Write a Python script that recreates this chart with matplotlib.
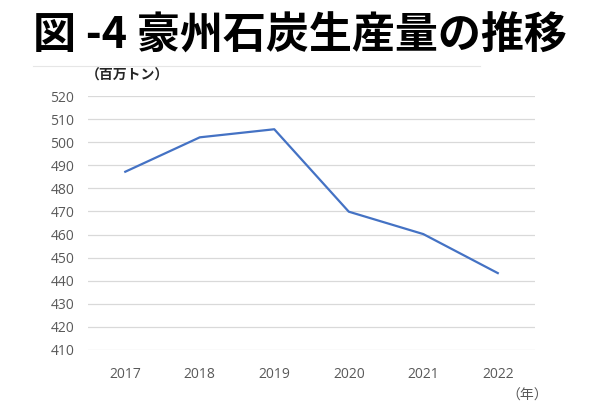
import matplotlib
matplotlib.use("Agg")
import matplotlib.pyplot as plt
from matplotlib.lines import Line2D

plt.rcParams['font.family'] = ['Noto Sans CJK JP', 'DejaVu Sans']

years = ['2017', '2018', '2019', '2020', '2021', '2022']
production = [487.2, 502.1, 505.6, 469.9, 460.2, 443.3]
yticks = list(range(410, 521, 10))

fig = plt.figure(figsize=(6.0, 4.08), dpi=100)
ax = fig.add_axes([0.1467, 0.1422, 0.745, 0.6225])

ax.plot(range(len(years)), production, color='#4472C4', linewidth=1.6)

ax.set_xlim(-0.5, len(years) - 0.5)
ax.set_ylim(410, 520)
ax.set_yticks(yticks)
ax.set_xticks(range(len(years)))
ax.set_xticklabels(years)
ax.grid(True, axis='y', color='#D9D9D9', linewidth=0.9)
ax.set_axisbelow(True)
for s in ax.spines.values():
    s.set_visible(False)
ax.tick_params(axis='both', length=0, labelsize=10, labelcolor='#595959')
ax.tick_params(axis='y', pad=10)
ax.tick_params(axis='x', pad=12)
for lab in ax.get_xticklabels() + ax.get_yticklabels():
    lab.set_family(['Open Sans', 'DejaVu Sans'])

# chart area top border
fig.add_artist(Line2D([33 / 600, 480 / 600], [1 - 66 / 408, 1 - 66 / 408],
                      color='#E6E6E6', linewidth=0.8))

fig.text(0.5, 1 - 35 / 408, '図 -4 豪州石炭生産量の推移', ha='center', va='center',
         fontsize=31, fontweight='bold', color='black')
fig.text(86 / 600, 1 - 76 / 408, '（百万トン）', ha='left', va='center',
         fontsize=10, fontweight='bold', color='#262626')
fig.text(527 / 600, 1 - 396 / 408, '（年）', ha='center', va='center',
         fontsize=10, color='#595959')

fig.savefig('out.png', dpi=100)
